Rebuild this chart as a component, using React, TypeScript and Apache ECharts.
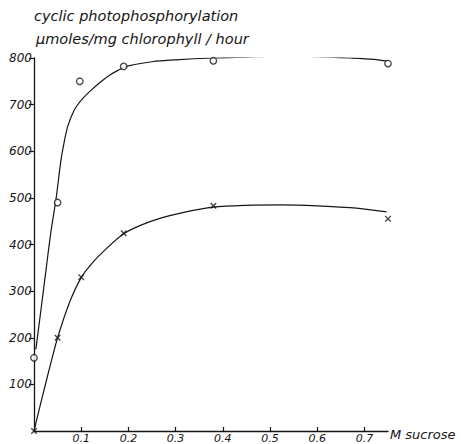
import React, { useEffect, useRef } from "react";
import * as echarts from "echarts";

// Measured points: cyclic photophosphorylation vs M sucrose
const circleX = [0, 0.05, 0.097, 0.19, 0.38, 0.75];
const circleY = [157, 490, 750, 782, 794, 788];
const crossX = [0, 0.05, 0.1, 0.19, 0.38, 0.75];
const crossY = [0, 200, 330, 424, 483, 455];

// Hand-drawn fitted curves
const upperCurveX = [0.004, 0.015, 0.026, 0.036, 0.047, 0.057, 0.065, 0.072, 0.085, 0.095, 0.106, 0.12, 0.143, 0.16, 0.179, 0.2, 0.25, 0.3, 0.38, 0.45, 0.52, 0.6, 0.67, 0.72, 0.75];
const upperCurveY = [175, 262, 350, 428, 500, 580, 625, 655, 688, 703, 716, 730, 750, 763, 774, 783, 792, 796, 800, 802, 804, 803, 800, 797, 793];
const lowerCurveX = [0, 0.018, 0.036, 0.05, 0.075, 0.1, 0.125, 0.15, 0.19, 0.228, 0.27, 0.313, 0.38, 0.45, 0.525, 0.6, 0.67, 0.747];
const lowerCurveY = [0, 75, 147, 200, 275, 329, 362, 388, 423, 442, 457, 468, 480, 484, 485, 483, 479, 470];

// Tick labels
const xTickValues = [0.1, 0.2, 0.3, 0.4, 0.5, 0.6, 0.7];
const yTickValues = [100, 200, 300, 400, 500, 600, 700, 800];

const titleLine1 = "cyclic photophosphorylation";
const titleLine2 = "µmoles/mg chlorophyll / hour";
const xName = "M sucrose";

const zip = (xs: number[], ys: number[]) => xs.map((x, i) => [x, ys[i]]);

const CROSS = "path://M0,1.5 L1.5,0 L5,3.5 L8.5,0 L10,1.5 L6.5,5 L10,8.5 L8.5,10 L5,6.5 L1.5,10 L0,8.5 L3.5,5 Z";
const INK = "#151515";
const FONT = "DejaVu Sans";

export default function App() {
  const ref = useRef<HTMLDivElement>(null);
  useEffect(() => {
    document.body.style.margin = "0";
    if (!ref.current) return;
    const chart = echarts.init(ref.current, undefined, { renderer: "svg" });
    chart.setOption({
      animation: false,
      backgroundColor: "#ffffff",
      grid: { left: 34, right: 73, top: 58, bottom: 12 },
      xAxis: {
        type: "value",
        min: 0,
        max: 0.75,
        interval: 0.1,
        splitLine: { show: false },
        axisLine: { show: true, lineStyle: { color: INK, width: 1.3 } },
        axisTick: { show: true, inside: true, length: 4, customValues: xTickValues, lineStyle: { color: INK, width: 1.2 } },
        axisLabel: {
          customValues: xTickValues,
          margin: 2,
          color: INK,
          fontFamily: FONT,
          fontStyle: "italic",
          fontSize: 11,
          formatter: (v: number) => v.toFixed(1),
        },
      },
      yAxis: {
        type: "value",
        min: 0,
        max: 800,
        interval: 100,
        splitLine: { show: false },
        axisLine: { show: true, lineStyle: { color: INK, width: 1.3 } },
        axisTick: { show: true, inside: false, length: 5, customValues: yTickValues, lineStyle: { color: INK, width: 1.2 } },
        axisLabel: {
          customValues: yTickValues,
          margin: 2,
          color: INK,
          fontFamily: FONT,
          fontStyle: "italic",
          fontSize: 12,
        },
      },
      graphic: [
        { type: "text", left: 34, top: 8, style: { text: titleLine1, fill: INK, font: `italic 14.5px "${FONT}"` } },
        { type: "text", left: 36, top: 31, style: { text: titleLine2, fill: INK, font: `italic 14.5px "${FONT}"` } },
        { type: "text", left: 390, top: 428, style: { text: xName, fill: INK, font: `italic 13px "${FONT}"` } },
      ],
      series: [
        {
          type: "line",
          data: zip(upperCurveX, upperCurveY),
          smooth: 0.3,
          showSymbol: false,
          lineStyle: { color: INK, width: 1.2 },
        },
        {
          type: "line",
          data: zip(lowerCurveX, lowerCurveY),
          smooth: 0.3,
          showSymbol: false,
          lineStyle: { color: INK, width: 1.2 },
        },
        {
          type: "scatter",
          data: zip(circleX, circleY),
          symbol: "circle",
          symbolSize: 6.5,
          itemStyle: { color: "#ffffff", borderColor: INK, borderWidth: 1.3 },
          z: 5,
        },
        {
          type: "scatter",
          data: zip(crossX, crossY),
          symbol: CROSS,
          symbolSize: 6.5,
          itemStyle: { color: INK },
          z: 5,
        },
      ],
    });
    return () => chart.dispose();
  }, []);
  return <div ref={ref} style={{ width: 461, height: 444 }} />;
}
